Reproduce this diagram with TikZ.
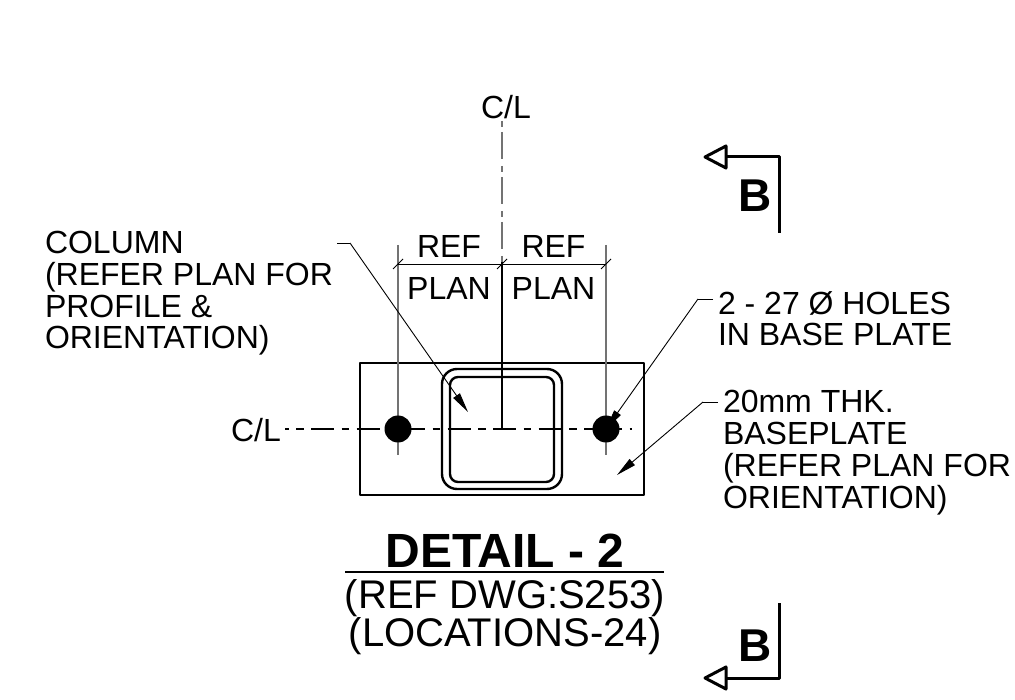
\documentclass[tikz,border=0pt]{standalone}
\usepackage{fontspec}
\setmainfont{Liberation Sans}
\usetikzlibrary{arrows.meta}
\tikzset{
 lbl/.style={inner sep=0pt,outer sep=0pt,font=\fontsize{32}{31.7}\selectfont,align=left},
 leadline/.style={line width=0.9pt},
 lead/.style={line width=0.9pt,-{Triangle[length=20pt,width=8pt]}},
 heavy/.style={line width=2.4pt,line join=round,line cap=round},
 thin line/.style={line width=1.4pt,draw=black!55},
 sect/.style={line width=3pt,line join=round},
 hole/.style={circle,fill=black,minimum size=27pt,inner sep=0pt}
}
\begin{document}
\begin{tikzpicture}[x=1pt,y=-1pt]
\useasboundingbox (0,0) rectangle (1015,700);
% plate and tube
\node[draw,heavy,minimum width=284pt,minimum height=132pt,inner sep=0pt] (plate) at (502,429) {};
\draw[heavy,rounded corners=15pt] (442,369) rectangle (562,489);
\draw[heavy,rounded corners=8pt] (450,377) rectangle (554,482);
% centre lines
\coordinate (cc) at (502,429);
\coordinate (clT) at (502,121);
\coordinate (clTe) at (502,262);
\coordinate (clL) at (285,429);
\coordinate (clR) at (632,429);
\draw[line width=1.4pt,draw=black!55,dash pattern=on 27pt off 7pt on 6pt off 5pt,dash phase=34pt] (clT) -- (clTe);
\draw[line width=1.5pt] (clTe) -- (cc);
\draw[line width=1.1pt,dash pattern=on 23pt off 7.5pt on 7.5pt off 7.5pt,dash phase=19.5pt] (clL) -- (clR);
% extension lines
\coordinate (e1a) at (398,245); \coordinate (e1b) at (398,455);
\coordinate (e2a) at (606,245); \coordinate (e2b) at (606,455);
\draw[thin line] (e1a) -- (e1b);
\draw[thin line] (e2a) -- (e2b);
% holes
\node[hole] (h1) at (398,429) {};
\node[hole] (h2) at (606,429) {};
% dimension line
\coordinate (d1) at (398,264); \coordinate (d2) at (502,264); \coordinate (d3) at (606,264);
\draw[line width=0.9pt] (d1) -- (d3);
\foreach \p in {d1,d2,d3}{\draw[line width=0.9pt] ([shift={(-5,5)}]\p) -- ([shift={(5,-5)}]\p);}
% labels
\node[lbl,anchor=base] (r1) at (449,258) {REF};
\node[lbl,anchor=base] (r2) at (553.5,258) {REF};
\node[lbl,anchor=base] (p1) at (449,300) {PLAN};
\node[lbl,anchor=base] (p2) at (553.5,300) {PLAN};
\node[lbl,anchor=base] (cl1) at (506,119) {C/L};
\node[lbl,anchor=base west] (cl2) at (231,442) {C/L};
\node[lbl,anchor=base west] (colt) at (45,349) {COLUMN\\(REFER PLAN FOR\\PROFILE \&\\ORIENTATION)};
\node[lbl,anchor=base west] (holet) at (718,346) {2 - 27 Ø HOLES\\IN BASE PLATE};
\node[lbl,anchor=base west] (baset) at (723,508) {20mm THK.\\BASEPLATE\\(REFER PLAN FOR\\ORIENTATION)};
% leaders
\coordinate (a0) at (337,243); \coordinate (a1) at (350,243); \coordinate (a2) at (468,412);
\draw[leadline] (a0) -- (a1);
\draw[lead] (a1) -- (a2);
\coordinate (b0) at (713,299); \coordinate (b1) at (698,299); \coordinate (b2) at (606,429);
\draw[leadline] (b0) -- (b1);
\draw[lead] (b1) -- (b2);
\coordinate (c0) at (718,402); \coordinate (c1) at (703,402); \coordinate (c2) at (617,475);
\draw[leadline] (c0) -- (c1);
\draw[lead] (c1) -- (c2);
% title
\node[inner sep=0pt,anchor=base,font=\fontsize{48}{48}\selectfont\bfseries] (title) at (505,567) {DETAIL - 2};
\coordinate (u1) at (345,572); \coordinate (u2) at (664,572);
\draw[line width=2.8pt] (u1) -- (u2);
\node[inner sep=0pt,anchor=base,font=\fontsize{40}{40}\selectfont] (s1) at (505,608) {(REF DWG:S253)};
\node[inner sep=0pt,anchor=base,font=\fontsize{40}{40}\selectfont] (s2) at (505,646) {(LOCATIONS-24)};
% section marks
\coordinate (t0) at (779,233); \coordinate (t1) at (779,157); \coordinate (t2) at (705,157);
\draw[sect] (t0) -- (t1) -- (t2);
\draw[sect,fill=white] (705,157) -- (726,146) -- (726,168) -- cycle;
\node[inner sep=0pt,anchor=base,font=\fontsize{46}{46}\selectfont\bfseries] (b1t) at (755,212) {B};
\coordinate (u0) at (779,603); \coordinate (u1b) at (779,678); \coordinate (u2b) at (705,678);
\draw[sect] (u0) -- (u1b) -- (u2b);
\draw[sect,fill=white] (705,678) -- (726,667) -- (726,689) -- cycle;
\node[inner sep=0pt,anchor=base,font=\fontsize{46}{46}\selectfont\bfseries] (b2t) at (755,661) {B};
\end{tikzpicture}
\end{document}
